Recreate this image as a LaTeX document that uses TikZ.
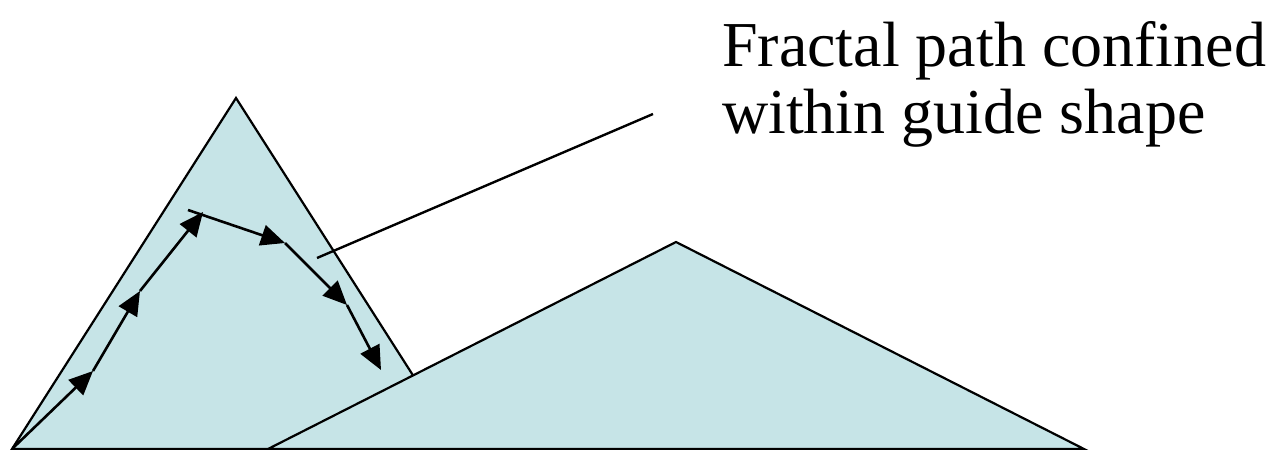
\documentclass[tikz,border=0pt]{standalone}
\usepackage{fontspec}
\setmainfont{Liberation Serif}
\usetikzlibrary{arrows.meta}
\definecolor{guide}{RGB}{198,228,231}
\begin{document}
\begin{tikzpicture}[x=1pt,y=-1pt,
  shapeline/.style={draw=black,line width=2.2pt,fill=guide,line join=miter},
  fpath/.style={line width=2.6pt,-{Triangle[length=24pt,width=21pt]}},
  leader/.style={line width=2.4pt},
  lbl/.style={anchor=base west,inner sep=0pt,font=\fontsize{64}{64}\selectfont}]
\useasboundingbox (0,0) rectangle (1270,450);
% left guide triangle
\draw[shapeline] (12,449) -- (236,98) -- (460,449) -- cycle;
% fractal path points
\coordinate (p0) at (13,448);
\coordinate (p1) at (93,371);
\coordinate (p2) at (140,291);
\coordinate (p3) at (203,212);
\coordinate (p3s) at (188,210);
\coordinate (p4) at (285,243);
\coordinate (p5) at (347,305);
\coordinate (p6) at (381,370);
\draw[fpath] (p0) -- (p1);
\draw[fpath] (p1) -- (p2);
\draw[fpath] (p2) -- (p3);
\draw[fpath] (p3s) -- (p4);
\draw[fpath] (p4) -- (p5);
\draw[fpath] (p5) -- (p6);
% right triangle
\draw[shapeline] (268,449) -- (676,242) -- (1084,449) -- cycle;
% labels
\node[lbl] (t1) at (722,66) {Fractal path confined};
\node[lbl] (t2) at (722,133) {within guide shape};
\coordinate (la) at (317,258);
\coordinate (lb) at (653,114);
\draw[leader] (la) -- (lb);
\end{tikzpicture}
\end{document}
